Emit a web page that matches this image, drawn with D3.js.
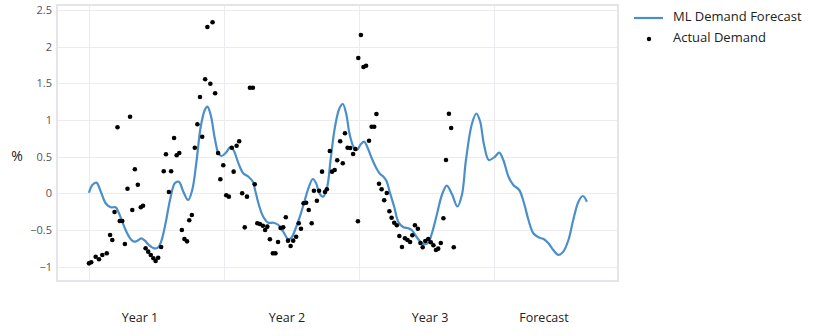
<!DOCTYPE html>
<html>
<head>
<meta charset="utf-8">
<script src="https://cdn.jsdelivr.net/npm/d3@7"></script>
<style>
  html, body { margin: 0; padding: 0; background: #fff; }
  svg { display: block; }
</style>
</head>
<body>
<svg id="chart" width="814" height="336"></svg>
<script>
// Observed weekly demand (days since start, % change)
const actualDays = [0,6,18,27,36,48,57,63,69,77,83,90,97,104,111,117,124,132,140,146,153,160,167,174,180,187,195,202,208,216,222,230,237,244,251,258,265,271,278,286,293,300,306,314,320,328,334,341,349,355,363,371,378,386,391,399,406,414,421,427,435,443,448,455,462,470,476,482,489,497,504,511,518,525,532,538,545,552,560,567,573,580,587,594,602,608,616,622,630,638,643,651,657,664,671,679,686,692,699,706,714,720,727,728,735,742,749,757,764,771,777,784,791,798,805,812,818,825,832,839,846,854,861,868,874,881,889,896,902,909,917,924,931,938,944,951,958,965,973,979,986];
const actualValues = [-0.955,-0.941,-0.865,-0.900,-0.841,-0.818,-0.569,-0.637,-0.255,0.900,-0.378,-0.378,-0.691,0.063,1.045,-0.228,0.327,0.117,-0.191,-0.169,-0.750,-0.796,-0.841,-0.886,-0.923,-0.878,-0.732,0.300,0.532,0.018,0.300,0.754,0.518,0.550,-0.500,-0.623,-0.655,-0.368,-0.296,0.622,0.941,1.313,0.772,1.555,2.268,1.495,2.332,1.364,0.550,0.191,0.382,-0.027,-0.046,0.622,0.295,0.649,0.709,0.000,-0.464,-0.046,1.440,1.440,0.123,-0.409,-0.419,-0.442,-0.500,-0.455,-0.627,-0.818,-0.818,-0.664,-0.473,-0.464,-0.327,-0.646,-0.719,-0.646,-0.592,-0.409,-0.483,-0.136,-0.128,-0.228,-0.409,0.035,-0.101,0.035,0.295,0.018,0.055,0.577,0.295,0.318,0.450,0.709,0.409,0.818,0.622,0.618,0.536,0.604,-0.382,1.845,2.159,1.722,1.740,0.717,0.908,0.908,1.081,0.131,0.055,-0.095,0.004,-0.245,-0.333,-0.401,-0.436,-0.582,-0.732,-0.614,-0.637,-0.664,-0.573,-0.436,-0.483,-0.678,-0.736,-0.650,-0.623,-0.668,-0.709,-0.773,-0.755,-0.678,-0.341,0.454,1.085,0.890,-0.736];

// Model output over the history and the forecast horizon
const forecastDays = [0,9,20,32,45,59,72,81,90,99,113,122,131,141,151,162,176,187,195,207,219,232,243,255,268,279,291,302,313,320,329,340,350,358,370,383,392,404,417,431,443,449,458,471,485,498,512,525,539,548,557,570,581,593,605,614,623,633,644,653,665,677,686,695,704,715,724,735,744,752,764,778,787,796,805,814,825,836,850,863,872,886,900,908,917,927,940,954,967,981,996,1008,1019,1035,1047,1057,1068,1081,1098,1109,1120,1134,1147,1163,1176,1188,1201,1215,1230,1242,1255,1269,1282,1296,1309,1323,1335,1346];
const forecastValues = [0.008,0.113,0.145,0.022,-0.136,-0.191,-0.191,-0.273,-0.387,-0.500,-0.627,-0.660,-0.646,-0.614,-0.646,-0.705,-0.750,-0.736,-0.660,-0.409,-0.091,0.136,0.158,0.022,-0.091,0.045,0.454,0.908,1.136,1.181,1.068,0.750,0.545,0.509,0.554,0.635,0.577,0.409,0.273,0.226,0.158,0.045,-0.136,-0.319,-0.401,-0.401,-0.432,-0.524,-0.627,-0.600,-0.500,-0.319,-0.136,0.068,0.195,0.136,0.000,-0.046,0.090,0.454,0.908,1.159,1.218,1.091,0.818,0.635,0.590,0.672,0.704,0.635,0.481,0.331,0.263,0.226,0.158,0.000,-0.183,-0.387,-0.464,-0.477,-0.500,-0.600,-0.682,-0.695,-0.674,-0.545,-0.296,-0.023,0.106,-0.010,-0.180,-0.023,0.454,0.945,1.088,0.986,0.659,0.454,0.502,0.554,0.454,0.226,0.113,0.045,-0.136,-0.364,-0.545,-0.600,-0.627,-0.682,-0.773,-0.841,-0.796,-0.637,-0.364,-0.115,-0.037,-0.115];

// Axis ticks and period labels
const yTicks = [-1, -0.5, 0, 0.5, 1, 1.5, 2, 2.5];
const xGridDays = [0, 365, 730, 1095];
const periodLabels = ["Year 1", "Year 2", "Year 3", "Forecast"];
const periodCenters = [138, 535, 922, 1230];

const seriesNames = ["ML Demand Forecast", "Actual Demand"];

const lineColor = "#4b8fca";
const plot = { left: 57, top: 5, width: 561, height: 276 };

const svg = d3.select("#chart");

const x = d3.scaleLinear()
  .domain([-86.5, 1430])
  .range([plot.left, plot.left + plot.width]);
const y = d3.scaleLinear()
  .domain([-1.196, 2.568])
  .range([plot.top + plot.height, plot.top]);

const g = svg.append("g");

// Grid
g.append("g")
  .selectAll("line.h")
  .data(yTicks)
  .join("line")
  .attr("x1", plot.left).attr("x2", plot.left + plot.width)
  .attr("y1", d => Math.round(y(d)) + 0.5).attr("y2", d => Math.round(y(d)) + 0.5)
  .attr("stroke", "#ececf0").attr("stroke-width", 1);

g.append("g")
  .selectAll("line.v")
  .data(xGridDays)
  .join("line")
  .attr("y1", plot.top).attr("y2", plot.top + plot.height)
  .attr("x1", d => Math.round(x(d)) + 0.5).attr("x2", d => Math.round(x(d)) + 0.5)
  .attr("stroke", "#ececf0").attr("stroke-width", 1);

// Frame
g.append("rect")
  .attr("x", plot.left).attr("y", plot.top)
  .attr("width", plot.width).attr("height", plot.height)
  .attr("fill", "none")
  .attr("stroke", "#e4e4ea").attr("stroke-width", 2);

// Y axis labels
const yAxis = d3.axisLeft(y)
  .tickValues(yTicks)
  .tickSize(0)
  .tickPadding(5)
  .tickFormat(d3.format("~g"));
const ya = g.append("g")
  .attr("transform", `translate(${plot.left},0)`)
  .call(yAxis);
ya.select(".domain").remove();
ya.selectAll("text")
  .attr("fill", "#555")
  .style("font-family", "'Open Sans', sans-serif")
  .style("font-size", "11px");

// Y title
svg.append("text")
  .attr("x", 17).attr("y", 157)
  .attr("text-anchor", "middle")
  .attr("dominant-baseline", "middle")
  .style("font-family", "'Open Sans', sans-serif")
  .style("font-size", "14px")
  .attr("fill", "#222")
  .text("%");

// Period labels under the plot
svg.append("g")
  .selectAll("text")
  .data(periodLabels)
  .join("text")
  .attr("x", (d, i) => x(periodCenters[i]))
  .attr("y", 319)
  .attr("text-anchor", "middle")
  .attr("dominant-baseline", "middle")
  .style("font-family", "'Open Sans', sans-serif")
  .style("font-size", "12.5px")
  .attr("fill", "#222")
  .text(d => d);

// Forecast line
const forecast = forecastDays.map((d, i) => ({ d, v: forecastValues[i] }));
const lineGen = d3.line()
  .x(p => x(p.d))
  .y(p => y(p.v))
  .curve(d3.curveCatmullRom.alpha(0.5));
g.append("path")
  .datum(forecast)
  .attr("d", lineGen)
  .attr("fill", "none")
  .attr("stroke", lineColor)
  .attr("stroke-width", 2.2)
  .attr("stroke-linejoin", "round");

// Actual demand points
const actual = actualDays.map((d, i) => ({ d, v: actualValues[i] }));
g.append("g")
  .selectAll("circle")
  .data(actual)
  .join("circle")
  .attr("cx", p => x(p.d))
  .attr("cy", p => y(p.v))
  .attr("r", 2.3)
  .attr("fill", "#000");

// Legend
const legend = svg.append("g");
legend.append("line")
  .attr("x1", 634).attr("x2", 663)
  .attr("y1", 18).attr("y2", 18)
  .attr("stroke", lineColor).attr("stroke-width", 2.2);
legend.append("circle")
  .attr("cx", 649).attr("cy", 39).attr("r", 2.2).attr("fill", "#000");
legend.selectAll("text")
  .data(seriesNames)
  .join("text")
  .attr("x", 673)
  .attr("y", (d, i) => 18 + i * 21)
  .attr("dominant-baseline", "middle")
  .style("font-family", "'Open Sans', sans-serif")
  .style("font-size", "13px")
  .attr("fill", "#222")
  .text(d => d);
</script>
</body>
</html>
